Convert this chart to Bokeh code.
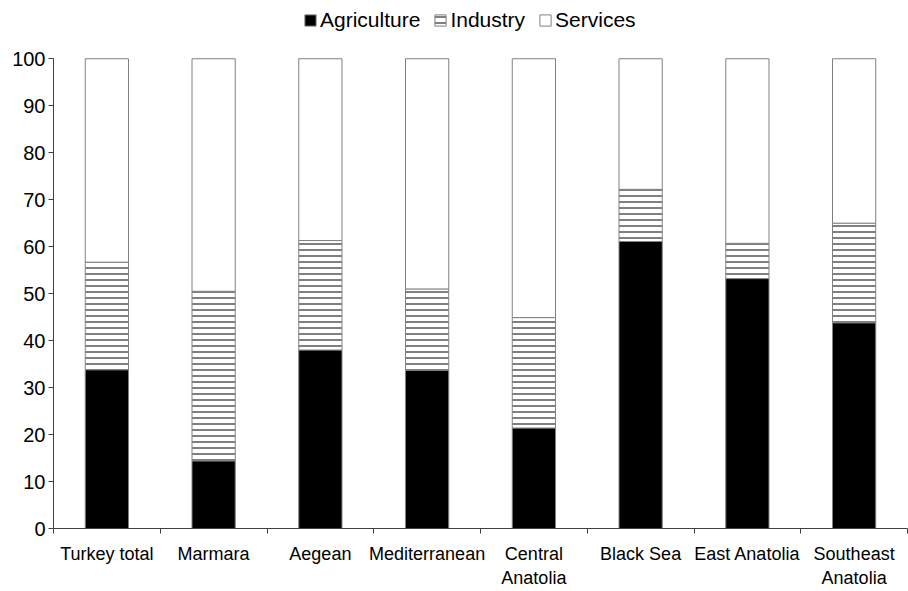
from bokeh.plotting import figure
from bokeh.models import Range1d, FixedTicker, Legend, LegendItem, ColumnDataSource
from bokeh.embed import file_html
from bokeh.resources import INLINE

regions = ["Turkey total", "Marmara", "Aegean", "Mediterranean", "Central\nAnatolia",
           "Black Sea", "East Anatolia", "Southeast\nAnatolia"]
agriculture = [33.8, 14.4, 38.0, 33.7, 21.4, 61.1, 53.2, 43.8]
industry = [22.9, 36.1, 23.3, 17.3, 23.5, 11.1, 7.5, 21.2]
services = [43.3, 49.5, 38.7, 49.0, 55.1, 27.8, 39.3, 35.0]
y_ticks = [0, 10, 20, 30, 40, 50, 60, 70, 80, 90, 100]

n = len(regions)
xs = [i + 0.5 for i in range(n)]
bounds = [float(i) for i in range(n + 1)]
a_top = agriculture
i_top = [a + b for a, b in zip(agriculture, industry)]
s_top = [a + b + c for a, b, c in zip(agriculture, industry, services)]

src = ColumnDataSource(dict(x=xs, a0=[0] * n, a1=a_top, i1=i_top, s1=s_top))

FONT = "Liberation Sans"
Y_VIEW_MAX = 112.4   # headroom above 100 so the legend sits inside the frame

p = figure(width=908, height=591, output_backend="svg", toolbar_location=None,
           x_range=Range1d(0, n), y_range=Range1d(0, Y_VIEW_MAX),
           min_border_left=53, min_border_right=1, min_border_top=0, min_border_bottom=63)
p.outline_line_color = None
p.xgrid.visible = False
p.ygrid.visible = False

w = 0.405
r_a = p.vbar(x="x", bottom="a0", top="a1", width=w, source=src,
             fill_color="black", line_color="#808080", line_width=1)
r_i = p.vbar(x="x", bottom="a1", top="i1", width=w, source=src,
             fill_color="white", line_color="#808080", line_width=1,
             hatch_pattern="horizontal_line", hatch_scale=6, hatch_color="black", hatch_weight=1)
r_s = p.vbar(x="x", bottom="i1", top="s1", width=w, source=src,
             fill_color="white", line_color="#808080", line_width=1)

# x axis
xa = p.xaxis[0]
xa.ticker = FixedTicker(ticks=xs, minor_ticks=bounds)
xa.major_label_overrides = {x: r for x, r in zip(xs, regions)}
xa.major_tick_out = 0
xa.major_tick_in = 0
xa.minor_tick_out = 5
xa.minor_tick_in = 0
xa.minor_tick_line_color = "#404040"
xa.axis_line_color = "#404040"
xa.major_label_standoff = 10
xa.major_label_text_font = FONT
xa.major_label_text_font_size = "18px"
xa.major_label_text_color = "black"

# y axis
ya = p.yaxis[0]
ya.ticker = FixedTicker(ticks=y_ticks)
ya.bounds = (0, 100)
ya.minor_tick_line_color = None
ya.major_tick_out = 5
ya.major_tick_in = 0
ya.major_tick_line_color = "#404040"
ya.axis_line_color = "#404040"
ya.major_label_standoff = 3
ya.major_label_text_font = FONT
ya.major_label_text_font_size = "20px"
ya.major_label_text_color = "black"

legend = Legend(items=[LegendItem(label="Agriculture", renderers=[r_a]),
                       LegendItem(label="Industry", renderers=[r_i]),
                       LegendItem(label="Services", renderers=[r_s])],
                orientation="horizontal", location=(250, 496),
                label_text_font=FONT, label_text_font_size="21px", label_text_color="black",
                glyph_width=14, glyph_height=14, label_standoff=3, spacing=13,
                padding=0, margin=0, border_line_color=None, background_fill_alpha=0)
p.add_layout(legend, "center")

open("out.html", "w").write(file_html(p, INLINE))
